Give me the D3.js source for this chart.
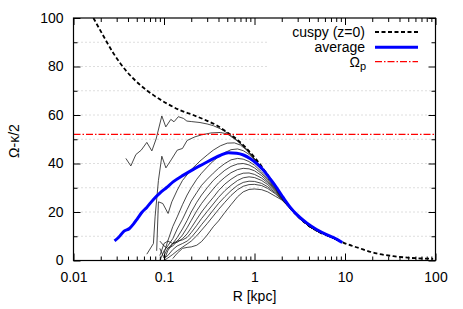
<!DOCTYPE html>
<html><head><meta charset="utf-8">
<script src="https://cdn.jsdelivr.net/npm/d3@7"></script>
<style>
body{margin:0;background:#fff;}
text{font-family:"Liberation Sans",Arial,sans-serif;}
</style></head>
<body><svg id="c" width="463" height="309"></svg>
<script>
// ---- data ----
const xTicks = [0.01, 0.1, 1, 10, 100];
const xTickLabels = ["0.01", "0.1", "1", "10", "100"];
const yTicks = [0, 20, 40, 60, 80, 100];
const omegaP = 52.0;

// cuspy (z=0)
const cuspyR = [0.0166,0.0197,0.0277,0.0388,0.0545,0.0764,0.107,0.15,0.21,0.3,0.38,0.49,0.64,0.82,1.06,1.36,1.76,2.26,2.92,3.77,5.28,7.41,9.57,14.6,22.3,34.1,52.1,94.2];
const cuspyV = [100,95,85.4,77.9,72.4,68.2,64.8,62.0,60.0,57.6,55.8,53.1,49.9,46.2,41.4,35.9,29.7,23.5,18.7,15.0,11.6,9.4,7.4,5.0,2.9,1.8,1.1,0.7];

// average
const avgR = [0.0284,0.0314,0.0362,0.0415,0.0459,0.0509,0.0568,0.0645,0.0764,0.0906,0.107,0.127,0.164,0.211,0.272,0.351,0.416,0.514,0.636,0.754,0.892,1.057,1.25,1.48,1.76,2.08,2.46,2.92,3.77,4.85,6.26,7.41,9.33];
const avgV = [8.1,9.5,12.1,13.2,15.0,17.3,19.8,21.9,25.2,27.9,30.1,32.5,35.2,37.6,39.8,42.0,43.3,44.4,44.2,43.5,42.1,40.0,37.3,33.8,30.0,25.9,22.1,19.0,15.5,12.8,10.7,9.5,7.4];

// individual runs
const run1R = [0.0379,0.043,0.0489,0.056,0.0646,0.0734,0.0818,0.0946,0.1047,0.119,0.129,0.144,0.164,0.179,0.2,0.25,0.3,0.35,0.42,0.5,0.64,0.82,1.0,1.2,1.4,1.7,2.0,2.5,3,4,5,7,9];
const run1V = [42.1,39.0,43.7,45.5,48.7,45.2,50.1,59.6,55.1,58.2,57.2,59.3,58.6,57.5,57.3,56.9,56.3,55.6,54.3,52.6,49.6,45.9,42.0,38.4,35.0,30.5,26.4,21.6,18.2,14.2,12.1,9.7,7.8];
const run2R = [0.0646,0.0764,0.0797,0.0868,0.0946,0.105,0.12,0.14,0.16,0.18,0.22,0.26,0.33,0.42,0.5,0.64,0.82,1.0,1.2,1.4,1.7,2.0,2.5,3,4,5,7,9];
const run2V = [2.6,7.0,18,33,43,38.2,41.5,45.5,46.2,49.5,51.0,51.8,52.6,52.8,52.2,49.4,45.8,41.9,38.3,34.9,30.4,26.3,21.5,18.1,14.1,12.0,9.6,7.7];
const run3R = [0.083,0.0868,0.097,0.111,0.122,0.14,0.16,0.2,0.25,0.3,0.35,0.42,0.5,0.6,0.7,0.82,1.0,1.2,1.4,1.7,2.0,2.5,3,4,5,7,9];
const run3V = [4,24.2,23.5,19.4,24.2,29,33,37.5,41,43.5,45.5,47.3,48.4,48.5,47.6,45.5,41.6,38.1,34.8,30.4,26.3,21.5,18.1,14.1,12.0,9.6,7.7];

const rGrid = [0.09,0.1,0.11,0.125,0.14,0.16,0.18,0.2,0.23,0.26,0.3,0.35,0.4,0.47,0.55,0.65,0.75,0.87,1.0,1.2,1.4,1.7,2.0,2.5,3.0,4.0,5.0,7.0,9.0];
const run4V  = [null,3,8,14,18,23,27,30,33.5,36,38.5,41,42.8,44.5,45.7,46.0,45.3,43.8,41.5,38.0,34.7,30.3,26.2,21.5,18.1,14.1,12.0,9.6,7.7];
const run5V  = [0,4,6,9,13,17,21,24.5,28,31,33.5,36,38,40,41.5,42.1,41.8,40.8,39.3,36.5,33.8,29.8,26.0,21.5,18.1,14.1,12.0,9.6,7.7];
const run6V  = [null,2,5,7,9.5,13,16.5,20,24,27,30,33,35,37.2,38.8,39.8,40.0,39.4,38.2,35.8,33.2,29.5,25.9,21.5,18.1,14.1,12.0,9.6,7.7];
const run7V  = [8,6,5,6,8,10.5,13.5,16.5,20.5,23.5,26.5,29.5,32,34.3,36.2,37.5,38,37.8,37.0,35.0,32.6,29.2,25.8,21.5,18.1,14.1,12.0,9.6,7.7];
const run8V  = [2,7,8,7,7.5,9,11,13.5,17,20,23,26,28.8,31.5,33.5,35.2,36.0,36.1,35.5,34.0,32.0,28.8,25.7,21.5,18.1,14.1,12.0,9.6,7.7];
const run9V  = [null,0,4,7,8,8.5,9.5,11.5,14.5,17.3,20.2,23.3,26,28.8,31,33,34.1,34.5,34.2,33.0,31.3,28.4,25.6,21.5,18.1,14.1,12.0,9.6,7.7];
const run10V = [5,1,2,4.5,6,7,8,9.5,12.2,14.8,17.6,20.8,23.5,26.3,28.8,31,32.2,32.7,32.6,31.8,30.4,27.9,25.4,21.4,18.0,14.1,12.0,9.6,7.7];
const run11V = [null,0,1,2.5,4,5.5,6.8,8,10.2,12.5,15.2,18.3,21,24,26.8,29.2,30.6,31.3,31.4,30.9,29.7,27.5,25.2,21.3,18.0,14.1,12.0,9.6,7.7];
const run12V = [null,null,null,0.8,3,5,5.4,5.6,6.3,7.8,10.5,13.9,16.3,19.8,23,26.3,28.3,29.3,29.5,29.2,28.3,26.5,25.0,21.3,18.0,14.1,12.0,9.6,7.7];

// ---- drawing ----
const svg = d3.select("#c");
const X0 = 73.5, X1 = 435.5, Y0 = 18, Y1 = 260.5;
const x = d3.scaleLog().domain([0.01, 100]).range([X0, X1]);
const y = d3.scaleLinear().domain([0, 100]).range([Y1, Y0]);

// grid
const gridVals = d3.range(10, 100, 10);
svg.append("g").selectAll("line").data(gridVals).join("line")
  .attr("x1", X0).attr("x2", X1)
  .attr("y1", d => y(d)).attr("y2", d => y(d))
  .attr("stroke", "#bdbdbd").attr("stroke-width", 1).attr("stroke-dasharray", "1,3");

// legend backing box (hides grid)
svg.append("rect").attr("x", 267).attr("y", Y0 + 1).attr("width", X1 - 267 - 1).attr("height", 58).attr("fill", "#fff");

const clip = svg.append("clipPath").attr("id", "clp").append("rect")
  .attr("x", X0).attr("y", Y0).attr("width", X1 - X0).attr("height", Y1 - Y0);

const plot = svg.append("g").attr("clip-path", "url(#clp)");
const line = d3.line().defined(d => d[1] !== null).x(d => x(d[0])).y(d => y(d[1]));
const zip = (a, b) => a.map((r, i) => [r, b[i]]);

const runs = [zip(run1R, run1V), zip(run2R, run2V), zip(run3R, run3V)];
[run4V, run5V, run6V, run7V, run8V, run9V, run10V, run11V, run12V].forEach(v => runs.push(zip(rGrid, v)));
plot.selectAll("path.run").data(runs).join("path").attr("class", "run")
  .attr("d", line).attr("fill", "none").attr("stroke", "#1a1a1a").attr("stroke-width", 0.8);

const smooth = d3.line().x(d => x(d[0])).y(d => y(d[1])).curve(d3.curveMonotoneX);
plot.append("path").attr("d", smooth(zip(cuspyR, cuspyV))).attr("fill", "none")
  .attr("stroke", "#000").attr("stroke-width", 1.8).attr("stroke-dasharray", "4,2.5");
plot.append("path").attr("d", smooth(zip(avgR, avgV))).attr("fill", "none")
  .attr("stroke", "#0000ff").attr("stroke-width", 3);
plot.append("line").attr("x1", X0).attr("x2", X1).attr("y1", y(omegaP)).attr("y2", y(omegaP))
  .attr("stroke", "#ff0000").attr("stroke-width", 1.2).attr("stroke-dasharray", "7,2,1.5,2");

// axes
const minorX = [];
[0.01, 0.1, 1, 10].forEach(d => { for (let k = 2; k <= 9; k++) minorX.push(d * k); });
const minorY = [10, 30, 50, 70, 90];
const styleAxis = g => { g.select(".domain").remove(); g.selectAll("line").attr("stroke", "#000"); g.selectAll("text").attr("font-size", 14).attr("fill", "#000").attr("font-family", "Liberation Sans, Arial, sans-serif"); };

svg.append("g").attr("transform", `translate(0,${Y1})`)
  .call(d3.axisBottom(x).tickValues(xTicks).tickFormat((d, i) => xTickLabels[i]).tickSize(-7).tickPadding(11.5)).call(styleAxis);
svg.append("g").attr("transform", `translate(0,${Y1})`)
  .call(d3.axisBottom(x).tickValues(minorX).tickFormat("").tickSize(-4)).call(styleAxis);
svg.append("g").attr("transform", `translate(0,${Y0})`)
  .call(d3.axisTop(x).tickValues(xTicks).tickFormat("").tickSize(-7)).call(styleAxis);
svg.append("g").attr("transform", `translate(0,${Y0})`)
  .call(d3.axisTop(x).tickValues(minorX).tickFormat("").tickSize(-4)).call(styleAxis);
svg.append("g").attr("transform", `translate(${X0},0)`)
  .call(d3.axisLeft(y).tickValues(yTicks).tickSize(-7).tickPadding(10)).call(styleAxis);
svg.append("g").attr("transform", `translate(${X0},0)`)
  .call(d3.axisLeft(y).tickValues(minorY).tickFormat("").tickSize(-4)).call(styleAxis);
svg.append("g").attr("transform", `translate(${X1},0)`)
  .call(d3.axisRight(y).tickValues(yTicks).tickFormat("").tickSize(-7)).call(styleAxis);
svg.append("g").attr("transform", `translate(${X1},0)`)
  .call(d3.axisRight(y).tickValues(minorY).tickFormat("").tickSize(-4)).call(styleAxis);

svg.append("rect").attr("x", X0).attr("y", Y0).attr("width", X1 - X0).attr("height", Y1 - Y0)
  .attr("fill", "none").attr("stroke", "#000").attr("stroke-width", 1.2);

// labels
svg.append("text").attr("x", 254.5).attr("y", 301).attr("text-anchor", "middle").attr("font-size", 14).text("R [kpc]");
svg.append("text").attr("transform", "translate(19,141) rotate(-90)").attr("text-anchor", "middle").attr("font-size", 14).text("Ω-κ/2");

// legend
const lg = svg.append("g");
const LX0 = 375, LX1 = 418;
lg.append("text").attr("x", 365).attr("y", 37).attr("text-anchor", "end").attr("font-size", 14).text("cuspy (z=0)");
lg.append("line").attr("x1", LX0).attr("x2", LX1).attr("y1", 32).attr("y2", 32).attr("stroke", "#000").attr("stroke-width", 1.8).attr("stroke-dasharray", "4,2.5");
lg.append("text").attr("x", 365).attr("y", 51.5).attr("text-anchor", "end").attr("font-size", 14).text("average");
lg.append("line").attr("x1", LX0).attr("x2", LX1).attr("y1", 47.3).attr("y2", 47.3).attr("stroke", "#0000ff").attr("stroke-width", 3);
const om = lg.append("text").attr("x", 366).attr("y", 66.5).attr("text-anchor", "end").attr("font-size", 14);
om.append("tspan").text("Ω");
om.append("tspan").attr("dy", 3.5).attr("font-size", 11).text("p");
lg.append("line").attr("x1", LX0).attr("x2", LX1).attr("y1", 61.7).attr("y2", 61.7).attr("stroke", "#ff0000").attr("stroke-width", 1.2).attr("stroke-dasharray", "7,2,1.5,2");
</script></body></html>
